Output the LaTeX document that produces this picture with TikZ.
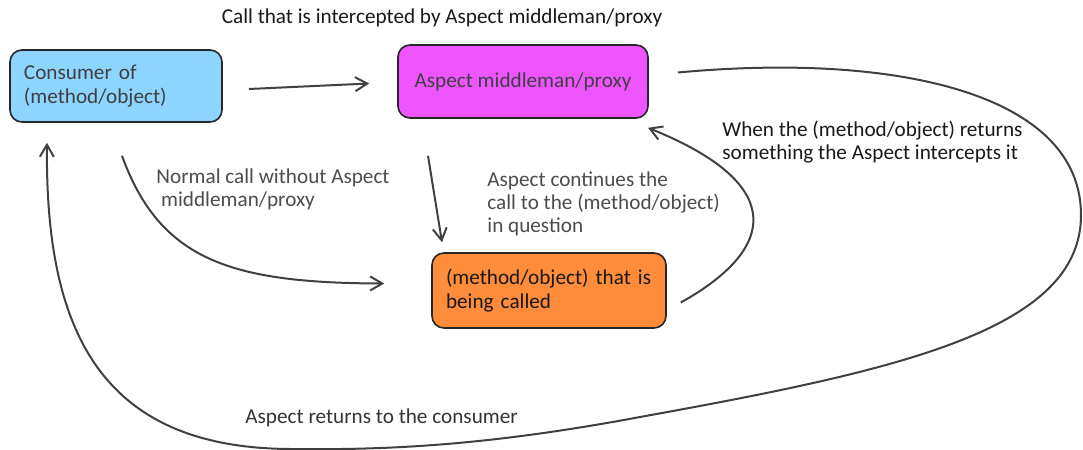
\documentclass[tikz,border=0pt]{standalone}
\usepackage{fontspec}
\setmainfont{Carlito}
\usepackage{tikz}
\usetikzlibrary{arrows.meta}

\definecolor{consumerblue}{HTML}{8DD4FF}
\definecolor{aspectpink}{HTML}{EE55FF}
\definecolor{calledorange}{HTML}{FF8C3B}
\definecolor{linegray}{HTML}{404040}

\tikzset{
  box/.style={draw=black!85, line width=0.8pt, rounded corners=6pt, inner xsep=7pt,
    align=left, font=\fontsize{10.6}{11.7}\selectfont},
  lbl/.style={align=left, inner sep=0pt, font=\fontsize{10.6}{11.5}\selectfont},
  conn/.style={draw=linegray, line width=1pt, -{Straight Barb[length=6pt,width=7pt]}},
}

\begin{document}
\begin{tikzpicture}[x=0.5pt,y=-0.5pt]
    \useasboundingbox (0,0) rectangle (1083,450);
    % draw boxes
    \node[box, fill=consumerblue, text=black!75, minimum width=106pt, minimum height=36pt,
      text width=92pt] (consumer) at (116,86) {Consumer of\\(method/object)\\[5pt]};%consumer
    \node[box, fill=aspectpink, text=black!75, minimum width=125pt, minimum height=36.5pt,
      align=center] (aspect) at (523,81.5) {Aspect middleman/proxy};%aspect
    \node[box, fill=calledorange, text=black!90, minimum width=117pt, minimum height=37.5pt,
      text width=103pt] (called) at (549,290.5) {(method/object) that is\\being called};%called

    % draw connectors
    \draw[conn] ([xshift=13pt,yshift=-1.5pt]consumer.east) -- ([xshift=-14pt,yshift=-1pt]aspect.west);%consumer-aspect
    \draw[conn] ([xshift=-47.5pt,yshift=-18.5pt]aspect.south) -- ([xshift=-53.5pt,yshift=5pt]called.north);%aspect-called
    \draw[conn] ([xshift=3pt,yshift=-16.5pt]consumer.south)
      .. controls (160,260) and (230,283) .. ([xshift=-23.5pt,yshift=3.5pt]called.west);%consumer-called
    \draw[conn] ([xshift=7pt,yshift=-6pt]called.east)
      .. controls (775,250) and (790,185) .. ([xshift=62.5pt,yshift=-4.5pt]aspect.south);%called-aspect
    \draw[conn] ([xshift=14.5pt,yshift=4.5pt]aspect.east)
      .. controls (900,52) and (1081,95) .. (1081,215)
      .. controls (1081,330) and (900,370) .. (640,417)
      .. controls (480,447) and (380,450) .. (290,449)
      .. controls (100,448) and (45,330) .. ([xshift=-34.5pt,yshift=-10pt]consumer.south);%aspect-consumer

    % labels connectors
    \node[lbl, text=black!90] (titlelbl) at (442,18) {Call that is intercepted by Aspect middleman/proxy};
    \node[lbl, text=black!70, anchor=north west] (normallbl) at (156,168) {Normal call without Aspect\\\ middleman/proxy};
    \node[lbl, text=black!70, anchor=north west] (continuelbl) at (487,171) {Aspect continues the\\call to the (method/object)\\in question};
    \node[lbl, text=black!90, anchor=north west] (returnslbl) at (722,121) {When the (method/object) returns\\something the Aspect intercepts it};
    \node[lbl, text=black!80, anchor=west] (consumerlbl) at (245,418) {Aspect returns to the consumer};
\end{tikzpicture}
\end{document}
